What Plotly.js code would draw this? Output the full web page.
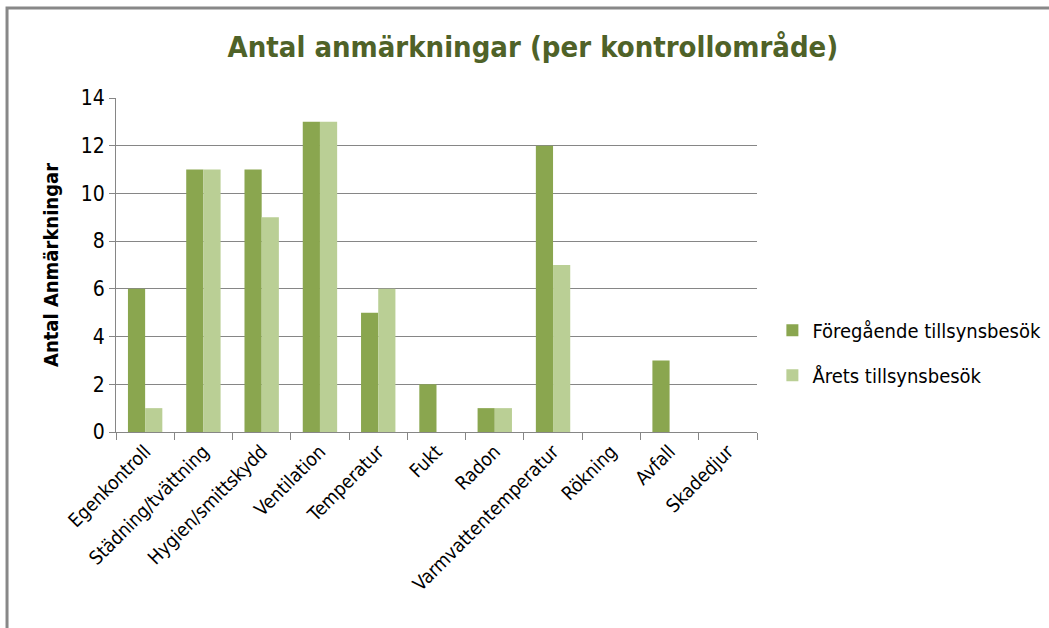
<!DOCTYPE html>
<html>
<head>
<meta charset="utf-8">
<script src="https://cdn.plot.ly/plotly-3.0.1.min.js"></script>
<style>html,body{margin:0;padding:0;background:#fff;}#chart{width:1049px;height:628px;}</style>
</head>
<body>
<div id="chart"></div>
<script>
const categories = ["Egenkontroll","Städning/tvättning","Hygien/smittskydd","Ventilation","Temperatur","Fukt","Radon","Varmvattentemperatur","Rökning","Avfall","Skadedjur"];
const previousVisit = [6,11,11,13,5,2,1,12,0,3,0];
const thisYearVisit = [1,11,9,13,6,0,1,7,0,0,0];
const seriesNames = ["Föregående tillsynsbesök","Årets tillsynsbesök"];
const yTicks = [0,2,4,6,8,10,12,14];

const FONT = "'Liberation Sans Narrow','DejaVu Sans Condensed','Open Sans',sans-serif";

const traces = [
  {type:'bar', x:categories, y:previousVisit, name:seriesNames[0], legendgroup:'a', marker:{color:'#8AA64F'}},
  {type:'bar', x:categories, y:thisYearVisit, name:seriesNames[1], legendgroup:'b', marker:{color:'#BACF95'}}
];

const layout = {
  width:1049, height:628,
  margin:{l:116, r:292, t:98, b:196, autoexpand:false},
  paper_bgcolor:'#fff', plot_bgcolor:'#fff',
  barmode:'group', bargap:0.41, bargroupgap:0,
  font:{family:FONT, color:'#000'},
  title:{text:'<b>Antal anmärkningar (per kontrollområde)</b>', x:0.508, xref:'container', y:0.925, yref:'container', xanchor:'center', yanchor:'middle',
    font:{family:FONT, size:29, color:'#4F6228'}},
  xaxis:{
    range:[-0.5,10.5], tickangle:-45, tickson:'boundaries', ticks:'outside', ticklen:7, tickcolor:'#868686',
    showline:true, linecolor:'#868686', linewidth:1, showgrid:false,
    tickfont:{family:FONT, size:19, color:'#000'}
  },
  yaxis:{
    range:[0,14], tickvals:yTicks, ticks:'outside', ticklen:6, tickcolor:'#868686',
    showline:true, linecolor:'#868686', linewidth:1,
    showgrid:true, gridcolor:'#868686', gridwidth:1, zeroline:false,
    tickfont:{family:FONT, size:21, color:'#000'},
    title:{text:'<b>Antal Anmärkningar</b>', standoff:16, font:{family:FONT, size:20, color:'#000'}}
  },
  legend:{x:1.024, xanchor:'left', y:0.237, yanchor:'middle', font:{family:FONT, size:20, color:'#000'},
    traceorder:'grouped', tracegroupgap:16, itemsizing:'constant', bgcolor:'rgba(0,0,0,0)'},
  shapes:[{type:'rect', xref:'paper', yref:'paper', x0:-0.170, x1:1.46, y0:-0.6, y1:1.2695,
    line:{color:'#888888', width:3}, fillcolor:'rgba(0,0,0,0)', layer:'below'}]
};

Plotly.newPlot('chart', traces, layout, {displayModeBar:false, staticPlot:true});
</script>
</body>
</html>
